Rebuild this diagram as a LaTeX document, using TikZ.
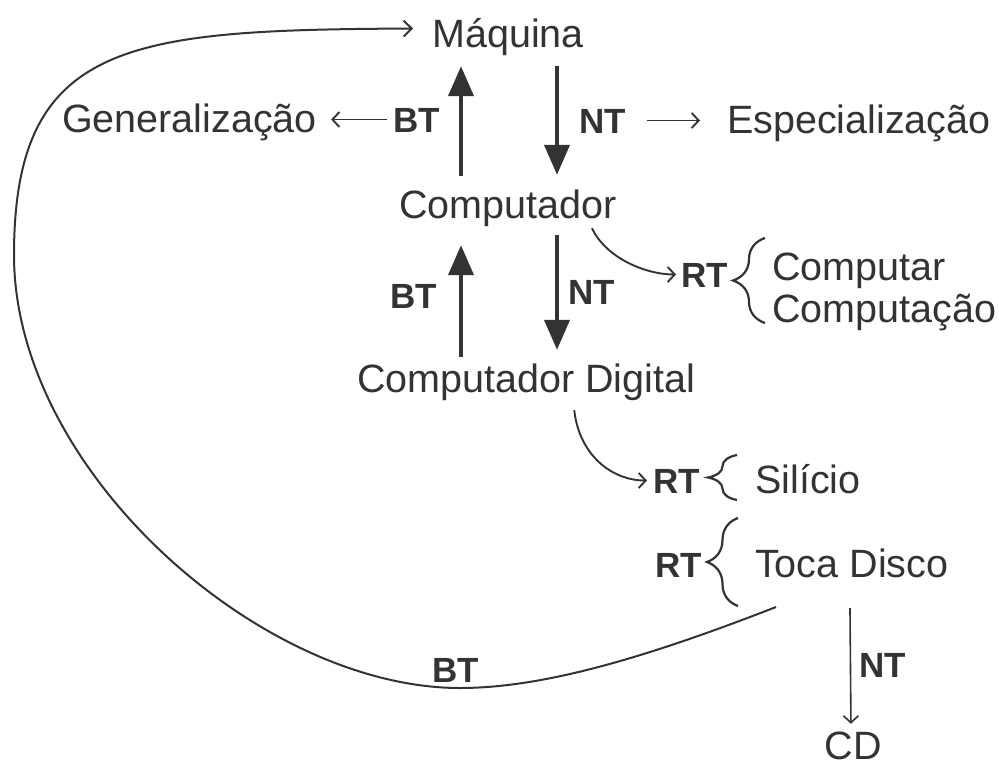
\documentclass[tikz,border=0pt]{standalone}
\usepackage{fontspec}
\setmainfont{Liberation Sans}
\usetikzlibrary{arrows.meta,decorations.pathreplacing,calc}
\definecolor{ink}{HTML}{333333}
\begin{document}
\begin{tikzpicture}[x=1pt,y=-1pt,
  term/.style={inner sep=0pt, text=ink, font=\fontsize{39.5}{40}\selectfont,
               text height=29pt, text depth=8pt},
  rel/.style={inner sep=0pt, text=ink, font=\fontsize{35}{36}\selectfont\bfseries,
              text height=25pt, text depth=0pt},
  hier/.style={draw=ink, line width=4pt, -{Triangle[length=30pt,width=25pt]}},
  link/.style={draw=ink, line width=1.9pt, -{Straight Barb[length=7pt,width=15pt]}},
  curly/.style={draw=ink, line width=2.2pt, decorate, decoration={brace,amplitude=#1}},
]
\useasboundingbox (0,0) rectangle (999,772);

% terms
\node[term, anchor=base] (maq) at (508,47) {Máquina};
\node[term, anchor=base west] (gen) at (62,132) {Generalização};
\node[term, anchor=base west] (esp) at (727,133) {Especialização};
\node[term, anchor=base] (comp) at (508,218) {Computador};
\node[term, anchor=base west] (cptr) at (772,280) {Computar};
\node[term, anchor=base west] (cptc) at (772,322) {Computação};
\node[term, anchor=base west] (dig) at (357,392) {Computador Digital};
\node[term, anchor=base west] (sil) at (755,493) {Silício};
\node[term, anchor=base west] (toca) at (755,577) {Toca Disco};
\node[term, anchor=base] (cd) at (853,759) {CD};

% relation labels
\node[rel, anchor=base west] (bt1) at (393,132) {BT};
\node[rel, anchor=base west] (nt1) at (579,133) {NT};
\node[rel, anchor=base west] (bt2) at (390,308) {BT};
\node[rel, anchor=base west] (nt2) at (568,304) {NT};
\node[rel, anchor=base west] (rt1) at (681,287) {RT};
\node[rel, anchor=base west] (rt2) at (653,493) {RT};
\node[rel, anchor=base west] (rt3) at (655,577) {RT};
\node[rel, anchor=base west] (nt3) at (859,677) {NT};
\node[rel, anchor=base west] (bt4) at (432,682) {BT};

% broader / narrower between Máquina and Computador
\draw[hier, shorten <=13pt, shorten >=11pt] ([xshift=-47pt]comp.north) -- ([xshift=-47pt]maq.south);
\draw[hier, shorten <=11pt, shorten >=14pt] ([xshift=49pt]maq.south) -- ([xshift=49pt]comp.north);

% broader / narrower between Computador and Computador Digital
\draw[hier, shorten <=6pt, shorten >=19pt] ([xshift=-47pt]comp.south |- dig.north) -- ([xshift=-47pt]comp.south);
\draw[hier, shorten <=9pt, shorten >=13pt] ([xshift=49pt]comp.south) -- ([xshift=49pt]comp.south |- dig.north);

% generalisation / specialisation pointers
\draw[link, shorten <=6pt, shorten >=14pt] (bt1.west) -- (bt1.west -| gen.east);
\draw[link, shorten <=21pt, shorten >=27pt] (nt1.east) -- (nt1.east -| esp.west);

% related terms
\draw[link] ([xshift=84pt,yshift=-2pt]comp.south) .. controls +(14,30) and +(-30,0) .. ([xshift=-5pt]rt1.west);
\draw[link] ([xshift=48pt,yshift=-10pt]dig.south) .. controls +(5,45) and +(-35,0) .. ([xshift=-6pt]rt2.west);

% braces
\draw[curly=32pt] (765,323) -- (765,238);
\draw[curly=29pt] (737,500) -- (737,455);
\draw[curly=31pt] (738,606) -- (738,518);

% Toca Disco -> CD
\draw[link, line width=1.6pt, shorten <=23pt, shorten >=6pt] ([xshift=-2pt]toca.south) -- ([xshift=-2pt]cd.north);

% long broader-term loop back to Máquina
\coordinate (tdfoot) at (776,607);
\draw[link, line width=2pt, -{Straight Barb[length=8pt,width=16pt]}]
  (tdfoot) .. controls (640,660) and (540,688) .. (460,688)
  .. controls (260,688) and (14,470) .. (14,255)
  .. controls (14,40) and (130,30) .. ([xshift=-19pt,yshift=8pt]maq.west);
\end{tikzpicture}
\end{document}
